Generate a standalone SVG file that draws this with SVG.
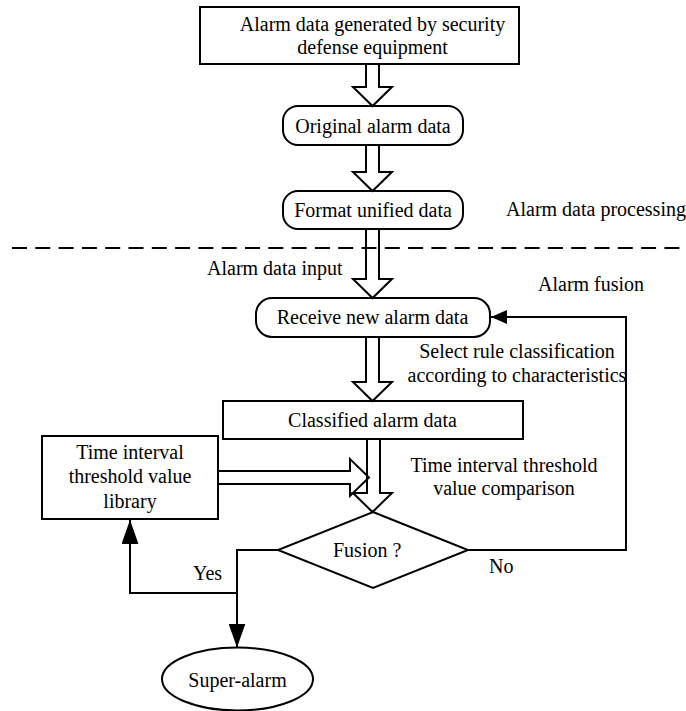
<svg xmlns="http://www.w3.org/2000/svg" width="686" height="711" viewBox="0 0 686 711">
<style>
text { font-family: "Liberation Serif", "Times New Roman", serif; font-size: 20px; fill: #000; }
.c { text-anchor: middle; }
.shape { fill: #fff; stroke: #000; stroke-width: 2; }
.hollow { fill: none; stroke: #000; stroke-width: 2; stroke-linejoin: miter; }
.line { fill: none; stroke: #000; stroke-width: 2; }
.dash { fill: none; stroke: #000; stroke-width: 2; stroke-dasharray: 15 8.3; }
</style>
<defs>
<marker id="ahBig" viewBox="0 0 24 17" refX="24" refY="8.5" markerWidth="24" markerHeight="17" markerUnits="userSpaceOnUse" orient="auto">
<path d="M0,0 L24,8.5 L0,17 z" fill="#000"/>
</marker>
<marker id="ahSmall" viewBox="0 0 16 14" refX="16" refY="7" markerWidth="16" markerHeight="14" markerUnits="userSpaceOnUse" orient="auto">
<path d="M0,0 L16,7 L0,14 z" fill="#000"/>
</marker>
</defs>
<rect width="686" height="711" fill="#fff"/>

<g id="labels">
<text x="506" y="216">Alarm data processing</text>
<text x="207" y="275">Alarm data input</text>
<text x="538" y="291">Alarm fusion</text>
<text class="c" x="517" y="358">Select rule classification</text>
<text class="c" x="517" y="382">according to characteristics</text>
<text class="c" x="504" y="472">Time interval threshold</text>
<text class="c" x="504" y="495">value comparison</text>
<text x="193" y="580">Yes</text>
<text x="489" y="573">No</text>
</g>

<g id="separator">
<line class="dash" x1="12" y1="248" x2="682" y2="248"/>
</g>

<g id="n-source">
<rect class="shape" x="200" y="7" width="319" height="57"/>
<text class="c" x="372.5" y="31">Alarm data generated by security</text>
<text class="c" x="372.5" y="54">defense equipment</text>
</g>
<g id="n-original">
<rect class="shape" x="283" y="106" width="180" height="39" rx="15"/>
<text class="c" x="373" y="133">Original alarm data</text>
</g>
<g id="n-format">
<rect class="shape" x="283" y="191" width="180" height="38" rx="15"/>
<text class="c" x="373" y="217">Format unified data</text>
</g>
<g id="n-receive">
<rect class="shape" x="256" y="298" width="234" height="39" rx="16"/>
<text class="c" x="372.5" y="324">Receive new alarm data</text>
</g>
<g id="n-classified">
<rect class="shape" x="223" y="401" width="300" height="38"/>
<text class="c" x="372.5" y="427">Classified alarm data</text>
</g>
<g id="n-library">
<rect class="shape" x="42" y="436" width="176" height="83"/>
<text class="c" x="130" y="459">Time interval</text>
<text class="c" x="130" y="483">threshold value</text>
<text class="c" x="130" y="508">library</text>
</g>
<g id="n-fusion">
<polygon class="shape" points="373,512 468,550 373,588 278,550"/>
<text x="333" y="557">Fusion ?</text>
</g>
<g id="n-super">
<ellipse class="shape" cx="237.5" cy="679" rx="75.5" ry="31.5"/>
<text class="c" x="237.5" y="687">Super-alarm</text>
</g>

<g id="connectors">
<path class="hollow" d="M366,64 V87 H353 L372.5,106 L392,87 H379 V64"/>
<path class="hollow" d="M366,145 V172 H353 L372.5,191 L392,172 H379 V145"/>
<path class="hollow" d="M366,229 V279 H353 L372.5,298 L392,279 H379 V229"/>
<path class="hollow" d="M366,337 V382 H353 L372.5,401 L392,382 H379 V337"/>
<path class="hollow" d="M367,439 V493 H353 L372.5,512 L392,493 H380 V439"/>
<path class="hollow" d="M218,471 H350 V459 L369,477.5 L350,496 V484 H218"/>
<path class="line" d="M278,550 H237 V647.5" marker-end="url(#ahBig)"/>
<path class="line" d="M237,593 H130 V520" marker-end="url(#ahBig)"/>
<path class="line" d="M468,550 H626 V317 H491" marker-end="url(#ahSmall)"/>
</g>
</svg>
